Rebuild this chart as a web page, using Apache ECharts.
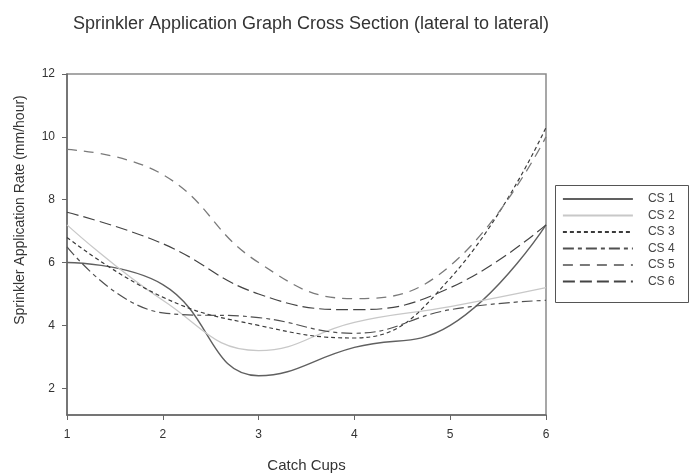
<!DOCTYPE html>
<html>
<head>
<meta charset="utf-8">
<script src="https://cdn.jsdelivr.net/npm/echarts@6/dist/echarts.min.js"></script>
<style>
html,body{margin:0;padding:0;background:#fff;}
#c{width:689px;height:476px;}
</style>
</head>
<body>
<div id="c"></div>
<script>
var xCups = [1, 2, 3, 4, 5, 6];
var seriesNames = ['CS 1', 'CS 2', 'CS 3', 'CS 4', 'CS 5', 'CS 6'];
var cs1 = [6.0, 5.3, 2.4, 3.3, 4.0, 7.2];
var cs2 = [7.2, 4.8, 3.2, 4.1, 4.6, 5.2];
var cs3 = [6.8, 4.9, 4.0, 3.6, 5.5, 10.3];
var cs4 = [6.5, 4.4, 4.25, 3.75, 4.5, 4.8];
var cs5 = [9.6, 8.8, 6.0, 4.85, 5.9, 10.0];
var cs6 = [7.6, 6.6, 5.0, 4.5, 5.2, 7.2];
var yTicks = [2, 4, 6, 8, 10, 12];
var xTicks = [1, 2, 3, 4, 5, 6];

var allValues = [cs1, cs2, cs3, cs4, cs5, cs6];
var styles = [
  {color: '#606060', width: 1.4, type: 'solid'},
  {color: '#c8c8c8', width: 1.3, type: 'solid'},
  {color: '#3a3a3a', width: 1.2, type: [4, 3]},
  {color: '#505050', width: 1.2, type: [11, 4, 4, 4]},
  {color: '#7a7a7a', width: 1.3, type: [10, 7]},
  {color: '#444444', width: 1.2, type: [12, 5]}
];

var series = seriesNames.map(function (n, i) {
  return {
    name: n,
    type: 'line',
    smooth: 0.45,
    symbol: 'none',
    showSymbol: false,
    data: xCups.map(function (x, j) { return [x, allValues[i][j]]; }),
    lineStyle: styles[i],
    itemStyle: {color: styles[i].color},
    z: 3
  };
});

var FF = '"Liberation Sans", Arial, sans-serif';
var chart = echarts.init(document.getElementById('c'), null, {renderer: 'canvas'});
chart.setOption({
  animation: false,
  backgroundColor: '#fff',
  title: {
    text: 'Sprinkler Application Graph Cross Section (lateral to lateral)',
    left: 306, top: 10, textAlign: 'center',
    textStyle: {fontFamily: FF, fontSize: 18, fontWeight: 'normal', color: '#333'}
  },
  grid: {
    left: 67, right: 143, top: 74, bottom: 61,
    outerBoundsMode: 'none',
    containLabel: false,
    show: true, borderColor: '#8a8a8a', borderWidth: 1.5
  },
  legend: {
    orient: 'vertical',
    left: 562, top: 193,
    data: seriesNames,
    itemWidth: 70, itemHeight: 10, itemGap: 4.5,
    padding: 0,
    itemStyle: {opacity: 0},
    lineStyle: {width: 1.8},
    textStyle: {fontFamily: FF, fontSize: 12, color: '#444', padding: [0, 0, 0, 10]},
    selectedMode: false
  },
  xAxis: {
    type: 'value', min: 1, max: 6, interval: 1,
    name: 'Catch Cups', nameLocation: 'middle', nameGap: 43,
    nameTextStyle: {fontFamily: FF, fontSize: 15, color: '#333'},
    axisLine: {lineStyle: {color: '#666', width: 1.5}},
    axisTick: {inside: false, length: 5, lineStyle: {color: '#666'}},
    axisLabel: {fontFamily: FF, fontSize: 12, color: '#333', margin: 14,
      formatter: function (v) { return xTicks.indexOf(v) >= 0 ? String(v) : ''; }},
    splitLine: {show: false}
  },
  yAxis: {
    type: 'value', min: 1.15, max: 12,
    axisLine: {show: true, lineStyle: {color: '#666', width: 1.5}},
    axisTick: {show: true, inside: false, length: 5, customValues: yTicks, lineStyle: {color: '#666'}},
    axisLabel: {fontFamily: FF, fontSize: 12, color: '#333', margin: 12, customValues: yTicks},
    splitLine: {show: false}
  },
  graphic: [{
    type: 'text',
    x: 20, y: 210,
    rotation: Math.PI / 2,
    style: {
      text: 'Sprinkler Application Rate (mm/hour)',
      fill: '#333',
      font: '14px "Liberation Sans", Arial, sans-serif',
      align: 'center', verticalAlign: 'middle'
    }
  }, {
    type: 'rect',
    left: 553, top: 183,
    shape: {width: 133, height: 117},
    style: {fill: null, stroke: '#555', lineWidth: 1},
    z: 1
  }],
  series: series
});
</script>
</body>
</html>
